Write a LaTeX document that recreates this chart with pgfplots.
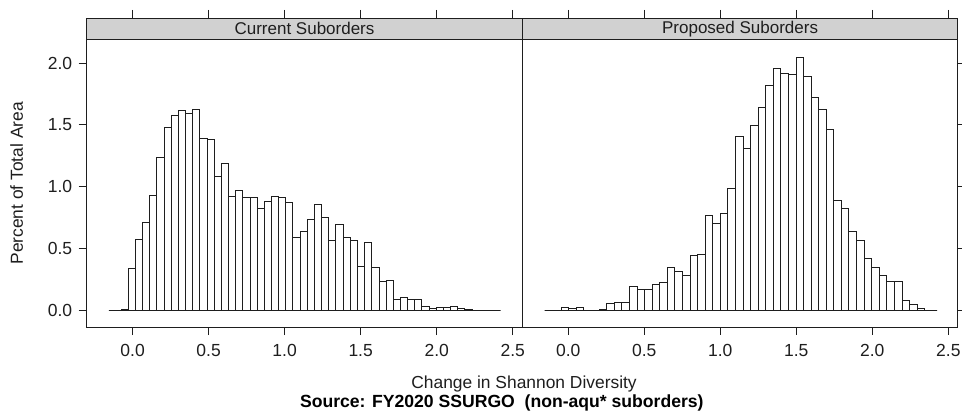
\documentclass[border=0pt]{standalone}
\usepackage{fontspec}
\setmainfont{Liberation Sans}
\usepackage{pgfplots}
\pgfplotsset{compat=1.18}
\definecolor{stripgray}{RGB}{209,209,209}
\definecolor{ink}{RGB}{30,30,30}
\pgfplotstableread{
x y
-0.156 0
-0.076 0.008
-0.029 0.338
0.018 0.578
0.065 0.714
0.112 0.932
0.159 1.238
0.207 1.476
0.254 1.578
0.301 1.614
0.348 1.589
0.395 1.622
0.442 1.392
0.489 1.384
0.536 1.084
0.583 1.192
0.630 0.922
0.678 0.973
0.725 0.911
0.772 0.911
0.819 0.827
0.866 0.881
0.913 0.922
0.960 0.914
1.007 0.870
1.054 0.589
1.101 0.641
1.149 0.735
1.196 0.859
1.243 0.754
1.290 0.568
1.337 0.692
1.384 0.589
1.431 0.568
1.478 0.359
1.525 0.549
1.572 0.349
1.620 0.232
1.667 0.246
1.714 0.086
1.761 0.108
1.808 0.086
1.855 0.086
1.902 0.035
1.949 0.016
1.996 0.027
2.043 0.027
2.091 0.035
2.138 0.016
2.185 0.008
2.232 0
2.279 0
2.326 0
2.373 0
2.420 0
}\currentdata
\pgfplotstableread{
x y
-0.156 0
-0.046 0.027
0.004 0.016
0.054 0.027
0.103 0
0.153 0
0.203 0.011
0.253 0.057
0.303 0.068
0.352 0.068
0.402 0.192
0.452 0.173
0.502 0.173
0.552 0.214
0.601 0.224
0.651 0.349
0.701 0.319
0.751 0.286
0.801 0.443
0.850 0.451
0.900 0.765
0.950 0.703
1.000 0.786
1.050 0.984
1.099 1.403
1.149 1.311
1.199 1.497
1.249 1.641
1.299 1.819
1.348 1.957
1.398 1.919
1.448 1.908
1.498 2.049
1.548 1.889
1.597 1.724
1.647 1.622
1.697 1.465
1.747 0.889
1.797 0.827
1.846 0.641
1.896 0.568
1.946 0.422
1.996 0.349
2.046 0.286
2.095 0.232
2.145 0.232
2.195 0.078
2.245 0.046
2.295 0.016
2.344 0.003
2.394 0
2.426 0
}\proposeddata
\begin{document}
\begin{tikzpicture}
\useasboundingbox (-86.7pt,-90pt) rectangle (875.3pt,327pt);
\pgfplotsset{
 panel/.style={
  scale only axis, width=435.6pt, height=309pt,
  xmin=-0.302, xmax=2.563, ymin=-0.134, ymax=2.364,
  xtick={0,0.5,1,1.5,2,2.5}, ytick={0,0.5,1,1.5,2},
  tick align=outside, major tick length=8pt,
  xtick pos=both, xticklabel pos=lower,
  tick style={ink, line width=0.9pt},
  axis line style={ink, line width=0.9pt},
  ticklabel style={font=\fontsize{17.5}{20}\selectfont, text=ink},
  xticklabel style={yshift=-6pt},
  /pgf/number format/.cd, fixed, fixed zerofill, precision=1, assume math mode=true,
  /pgfplots/.cd,
  clip=false,
 },
 bars/.style={ybar interval, fill=white, draw=ink, line width=0.8pt},
}
\begin{axis}[panel, ytick pos=left, yticklabel style={xshift=-3pt}]
\addplot[bars] table[x=x, y=y] {\currentdata};
\draw[ink, line width=0.9pt, fill=stripgray] (rel axis cs:0,0.9296) rectangle (rel axis cs:1,1);
\node[font=\fontsize{17}{20}\selectfont, text=ink] at (rel axis cs:0.5,0.9648) {Current Suborders};
\node[rotate=90, font=\fontsize{17.4}{20}\selectfont, text=ink] at ([xshift=-70pt]rel axis cs:0,0.465) {Percent of Total Area};
\node[anchor=base, font=\fontsize{17.4}{20}\selectfont, text=ink] at ([yshift=-62pt]rel axis cs:1.004,0) {Change in Shannon Diversity};
\node[anchor=base, font=\bfseries\fontsize{17.6}{20}\selectfont, text=black] at ([yshift=-81pt]rel axis cs:0.953,0) {Source: FY2020 SSURGO\ \ (non-aqu* suborders)};
\end{axis}
\begin{axis}[panel, at={(435.6pt,0pt)}, ytick pos=right, yticklabels={}]
\addplot[bars] table[x=x, y=y] {\proposeddata};
\draw[ink, line width=0.9pt, fill=stripgray] (rel axis cs:0,0.9296) rectangle (rel axis cs:1,1);
\node[font=\fontsize{17}{20}\selectfont, text=ink] at (rel axis cs:0.5,0.9648) {Proposed Suborders};
\end{axis}
\end{tikzpicture}
\end{document}
